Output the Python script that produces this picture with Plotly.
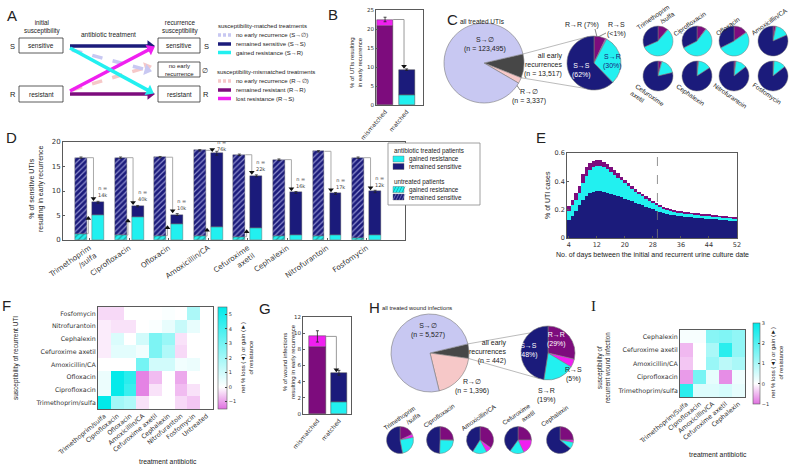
import math
import plotly.graph_objects as go

W, H = 800, 468
ARIAL = "Liberation Sans, Arial, sans-serif"
DEJA = "DejaVu Sans, Verdana, sans-serif"

NAVY = "#1b1b7b"
CYAN = "#22f0f0"
PURPLE = "#7d0c7d"
MAGENTA = "#f020f0"
LAV = "#c8c8f2"
PINK = "#f6c8c8"
DGRAY = "#474747"
AX = "#5a5a5a"

# ---------------- data ----------------
# B: % of UTIs resulting in early recurrence
B_categories = ["mismatched", "matched"]
B_lower = [20.7, 2.6]     # R->R (mismatched) / S->R (matched)
B_upper = [1.8, 6.7]      # R->S (mismatched) / S->S (matched)
B_err = [0.6, 0.2]

# C: pies
C_all_counts = [13517, 3337, 123495]          # early recurrences, R->0, S->0
C_early_pct = [7, 0.7, 30, 62]                # R->R, R->S, S->R, S->S
C_drugs = ["Trimethoprim<br>/sulfa", "Ciprofloxacin", "Ofloxacin", "Amoxicillin/CA",
           "Cefuroxime<br>axetil", "Cephalexin", "Nitrofurantoin", "Fosfomycin"]
C_drug_pies = [[11, 0.5, 57, 31.5], [10, 0.5, 57, 32.5], [15, 0.5, 52, 32.5], [3, 0.5, 15, 81.5],
               [4, 0.3, 17, 78.7], [1.5, 0.3, 14, 84.2], [2, 0.3, 12, 85.7], [1, 0.3, 13, 85.7]]

# D: % of sensitive UTIs resulting in early recurrence
D_drugs = ["Trimethoprim<br>/sulfa", "Ciprofloxacin", "Ofloxacin", "Amoxicillin/CA",
           "Cefuroxime<br>axetil", "Cephalexin", "Nitrofurantoin", "Fosfomycin"]
D_untreated_total = [16.8, 16.8, 16.9, 18.3, 17.4, 16.4, 18.1, 16.8]
D_untreated_gained = [1.3, 1.0, 0.9, 0.8, 0.7, 0.9, 0.8, 0.4]
D_treated_total = [7.7, 6.9, 5.2, 17.7, 13.1, 9.7, 9.5, 9.9]
D_treated_gained = [5.1, 4.6, 3.2, 2.7, 2.4, 1.1, 1.0, 1.1]
D_treated_err = [0.2, 0.15, 0.2, 0.4, 0.2, 0.2, 0.2, 0.25]
D_n = ["14k", "40k", "10k", "76k", "22k", "16k", "17k", "12k"]
D_gain_sig = [True, True, True, True, True, False, False, False]

# E: % of UTI cases by day
E_days = list(range(4, 53))
E_sensitive_top = [0.125, 0.155, 0.19, 0.23, 0.265, 0.295, 0.315, 0.328, 0.335, 0.335, 0.328, 0.318,
                   0.31, 0.303, 0.295, 0.287, 0.278, 0.269, 0.26, 0.25, 0.24, 0.23, 0.221, 0.212,
                   0.203, 0.194, 0.185, 0.177, 0.17, 0.164, 0.159, 0.155, 0.152, 0.149, 0.147, 0.145,
                   0.143, 0.141, 0.139, 0.137, 0.135, 0.133, 0.131, 0.129, 0.127, 0.125, 0.123, 0.121, 0.119]
E_gained_top = [0.19, 0.23, 0.27, 0.32, 0.39, 0.44, 0.48, 0.50, 0.51, 0.51, 0.503, 0.488, 0.466,
                0.446, 0.426, 0.406, 0.386, 0.366, 0.346, 0.327, 0.309, 0.293, 0.278, 0.264, 0.25,
                0.237, 0.222, 0.21, 0.2, 0.193, 0.187, 0.182, 0.178, 0.175, 0.172, 0.17, 0.167,
                0.165, 0.162, 0.16, 0.157, 0.155, 0.152, 0.15, 0.147, 0.145, 0.142, 0.14, 0.137]
E_resistant_top = [0.225, 0.27, 0.315, 0.37, 0.45, 0.50, 0.53, 0.545, 0.55, 0.55, 0.54, 0.522, 0.5,
                   0.478, 0.456, 0.434, 0.412, 0.39, 0.369, 0.348, 0.328, 0.31, 0.294, 0.279, 0.264,
                   0.25, 0.234, 0.221, 0.21, 0.202, 0.195, 0.19, 0.186, 0.182, 0.179, 0.176, 0.173,
                   0.171, 0.168, 0.166, 0.163, 0.161, 0.158, 0.155, 0.152, 0.15, 0.147, 0.145, 0.142]
E_cutoff = 29.3

# F: heatmap UTI (rows bottom -> top)
F_cols = ["Trimethoprim/sulfa", "Ciprofloxacin", "Ofloxacin", "Amoxicillin/CA", "Cefuroxime axetil",
          "Cephalexin", "Nitrofurantoin", "Fosfomycin", "Untreated"]
F_rows = ["Trimethoprim/sulfa", "Ciprofloxacin", "Ofloxacin", "Amoxicillin/CA", "Cefuroxime axetil",
          "Cephalexin", "Nitrofurantoin", "Fosfomycin"]
F_z = [[5.5, 2.0, 1.7, -0.3, 0, 0, -0.4, -0.6, 0],
       [0.4, 5.4, 4.3, -1.3, -0.3, 0, -0.7, -0.3, 0],
       [0.4, 5.4, 4.6, -1.3, -0.7, 0, -0.9, 0, 0],
       [0, 0, 0, 3.0, 1.0, 1.0, 0.3, 0.4, 0],
       [-0.2, 0.6, 0.6, 0.3, 2.8, 1.7, -0.4, 0, 0],
       [-0.2, 0.8, 0, 1.0, 2.8, 2.2, -0.3, 0, 0],
       [-0.2, -0.3, -0.3, 0, 0.1, 0.5, 1.2, 0.5, 0],
       [-0.4, -0.4, 0, 0, 0, 0.1, 0, 1.8, 0]]

# G: wound infections
G_categories = ["mismatched", "matched"]
G_lower = [8.3, 1.5]
G_upper = [1.3, 3.6]
G_err = [0.7, 0.3]

# H: pies
H_all_counts = [442, 1396, 5527]
H_early_pct = [29, 5, 19, 48]
H_drugs = ["Trimethoprim<br>/sulfa", "Ciprofloxacin", "Amoxicillin/CA", "Cefuroxime<br>axetil", "Cephalexin"]
H_drug_pies = [[18, 4, 25, 53], [25, 0.5, 25, 49.5], [35, 7, 17, 41], [25, 18, 17, 40], [25, 3, 8, 64]]

# I: heatmap wound (rows bottom -> top)
I_cols = ["Trimethoprim/Sulfa", "Ciprofloxacin", "Amoxicillin/CA", "Cefuroxime axetil", "Cephalexin"]
I_rows = ["Trimethoprim/sulfa", "Ciprofloxacin", "Amoxicillin/CA", "Cefuroxime axetil", "Cephalexin"]
I_z = [[2.5, 0.4, 0.4, 0.5, 0.3],
       [-0.7, 1.6, 0.3, -0.8, 0.2],
       [-0.4, 0, 1.2, 0.8, 1.0],
       [-0.5, 0, 1.0, 2.5, 1.3],
       [0.1, 0.1, 1.4, 1.5, 1.3]]

PIE_COLORS = [PURPLE, MAGENTA, CYAN, NAVY]

# ---------------- helpers ----------------
fig = go.Figure()
ann = []
shapes = []


def dx(a, b):
    return [a / W, b / W]


def dy(top, bot):
    return [1 - bot / H, 1 - top / H]


def T(x, y, text, size=6.5, color="#222", xanchor="center", yanchor="middle", angle=0,
      align="center", family=ARIAL):
    ann.append(dict(x=x, y=y, xref="x7", yref="y7", text=text, showarrow=False,
                    font=dict(size=size, color=color, family=family), xanchor=xanchor,
                    yanchor=yanchor, textangle=angle, align=align))


def L(xs, ys, color, width=1.0, dash=None):
    fig.add_trace(go.Scatter(x=xs, y=ys, mode="lines", line=dict(color=color, width=width, dash=dash),
                             xaxis="x7", yaxis="y7", hoverinfo="skip", showlegend=False))


def rect(x0, y0, x1, y1, fill="rgba(0,0,0,0)", line="#333", lw=0.8):
    shapes.append(dict(type="rect", xref="x7", yref="y7", x0=x0, y0=y0, x1=x1, y1=y1,
                       fillcolor=fill, line=dict(color=line, width=lw)))


def arrow(x0, y0, x1, y1, color, width=3.5, dash=None, head=10):
    ddx, ddy = x1 - x0, y1 - y0
    d = math.hypot(ddx, ddy)
    ux, uy = ddx / d, ddy / d
    hx, hy = x1 - ux * head * 0.4, y1 - uy * head * 0.4
    L([x0, hx - ux * 2], [y0, hy - uy * 2], color, width, dash)
    ang = math.degrees(math.atan2(ddx, -ddy))
    fig.add_trace(go.Scatter(x=[hx], y=[hy], mode="markers",
                             marker=dict(symbol="triangle-up", size=head, color=color, angle=ang,
                                         line=dict(width=0)),
                             xaxis="x7", yaxis="y7", hoverinfo="skip", showlegend=False))


def pie(values, colors, cx, cy, r, rotation=0, lw=0.6):
    fig.add_trace(go.Pie(values=values, labels=[str(i) for i in range(len(values))],
                         marker=dict(colors=colors, line=dict(color="#7a7a7a", width=lw)),
                         domain=dict(x=[(cx - r) / W, (cx + r) / W], y=[1 - (cy + r) / H, 1 - (cy - r) / H]),
                         sort=False, direction="clockwise", rotation=rotation, textinfo="none",
                         hoverinfo="skip", showlegend=False, automargin=False))


def pt(cx, cy, r, ang):
    a = math.radians(ang)
    return cx + r * math.sin(a), cy - r * math.cos(a)


def axis(domain, anchor, **kw):
    d = dict(domain=domain, anchor=anchor, showline=True, linecolor=AX, linewidth=0.8, mirror=True,
             ticks="inside", ticklen=2.5, tickcolor=AX, tickfont=dict(size=6, color="#333", family=DEJA),
             showgrid=False, zeroline=False, fixedrange=True, automargin=False)
    d.update(kw)
    return d


def stacked_two(xa, ya, lower, upper, err, low_cols, up_cols, width):
    fig.add_trace(go.Bar(x=[0, 1], y=lower, base=[0, 0], width=width,
                         marker=dict(color=low_cols, line=dict(color="#444", width=0.5)),
                         xaxis=xa, yaxis=ya, hoverinfo="skip", showlegend=False))
    fig.add_trace(go.Bar(x=[0, 1], y=upper, base=lower, width=width,
                         marker=dict(color=up_cols, line=dict(color="#444", width=0.5)),
                         error_y=dict(type="data", array=err, color="#222", thickness=0.8, width=1.5),
                         xaxis=xa, yaxis=ya, hoverinfo="skip", showlegend=False))
    tops = [lower[i] + upper[i] for i in range(2)]
    xb = 1 - 0.12
    fig.add_trace(go.Scatter(x=[width / 2, xb, xb], y=[tops[0], tops[0], tops[1] + 0.05 * tops[0]],
                             mode="lines", line=dict(color="#999", width=1), xaxis=xa, yaxis=ya,
                             hoverinfo="skip", showlegend=False))
    fig.add_trace(go.Scatter(x=[xb], y=[tops[1] + 0.04 * tops[0]], mode="markers",
                             marker=dict(symbol="triangle-down", size=5, color="#111"),
                             xaxis=xa, yaxis=ya, hoverinfo="skip", showlegend=False))


# ---------------- panel A (diagram) ----------------
T(12, 15, "A", size=15)
T(42, 27, "initial<br>susceptibility", size=6.3)
T(12.5, 46, "S", size=7.5)
T(12.5, 94, "R", size=7.5)
rect(19, 38, 63, 53)
rect(19, 86, 63, 102)
T(41, 45.5, "sensitive", size=6.5)
T(41, 94, "resistant", size=6.5)
T(108, 34, "antibiotic treatment", size=6.5)
T(180, 27, "recurrence<br>susceptibility", size=6.3)
rect(158, 38, 200, 53)
rect(158, 62, 200, 77)
rect(158, 86, 200, 102)
T(179, 45.5, "sensitive", size=6.5)
T(179, 69.5, "no early<br>recurrence", size=6)
T(179, 94, "resistant", size=6.5)
T(206, 46, "S", size=7.5)
T(205, 70, "∅", size=7)
T(206, 94, "R", size=7.5)

arrow(72, 90, 151, 66, PINK, width=3.5, dash="dash")
arrow(72, 50, 151, 71, LAV, width=3.5, dash="dash")
arrow(70, 46, 154, 46, NAVY)
arrow(70, 94, 154, 94, PURPLE)
arrow(70, 91, 154, 47, MAGENTA)
arrow(70, 48, 153, 93, CYAN)

T(216, 26, "susceptibility-matched treatments", size=6, xanchor="left")
T(215, 72, "susceptibility-mismatched treatments", size=6, xanchor="left")
A_leg = [(35, LAV, "dash", "no early recurrence (S→∅)"),
         (44, NAVY, None, "remained sensitive (S→S)"),
         (52.5, CYAN, None, "gained resistance (S→R)"),
         (81, PINK, "dash", "no early recurrence (R→∅)"),
         (90, PURPLE, None, "remained resistant (R→R)"),
         (98.5, MAGENTA, None, "lost resistance (R→S)")]
for yy, col, ds, lab in A_leg:
    L([218, 231], [yy, yy], col, width=3.5, dash="3px,2px" if ds else None)
    T(234, yy, lab, size=6, xanchor="left")

# ---------------- panel B ----------------
T(333, 14, "B", size=15)
stacked_two("x", "y", B_lower, B_upper, B_err, [PURPLE, CYAN], [MAGENTA, NAVY], 0.75)
T(356, 63, "% of UTIs resulting<br>in early recurrence", size=6, angle=-90)

# ---------------- panel C ----------------
T(452, 19, "C", size=15)
T(482, 21, "all treated UTIs", size=6.5)
c_cx, c_cy, c_r = 484, 63, 40
c_rot = 77
pie(C_all_counts, [DGRAY, PINK, LAV], c_cx, c_cy, c_r, rotation=c_rot)
s_cx, s_cy, s_r = 594, 63, 27
pie(C_early_pct, PIE_COLORS, s_cx, s_cy, s_r, rotation=0)
frac = C_all_counts[0] / sum(C_all_counts)
p1 = pt(c_cx, c_cy, c_r, c_rot)
p2 = pt(c_cx, c_cy, c_r, c_rot + 360 * frac)
q1 = pt(s_cx, s_cy, s_r, -12)
q2 = pt(s_cx, s_cy, s_r, 200)
L([p1[0], q1[0]], [p1[1], q1[1]], "#aaaaaa", 0.8)
L([p2[0], q2[0]], [p2[1], q2[1]], "#aaaaaa", 0.8)
T(485, 44.5, "S→∅<br>(n = 123,495)", size=7)
T(564, 64.5, "all early<br>recurrences<br>(n = 13,517)", size=7, xanchor="right", align="right")
T(529, 96, "R→∅<br>(n = 3,337)", size=7)
L([516, 520], [84, 90], "#555", 0.7)
T(582, 25, "R→R (7%)", size=7)
L([595, 597], [29, 37], "#555", 0.7)
T(616, 29, "R→S<br>(<1%)", size=7)
L([606, 598], [33, 37], "#555", 0.7)
T(612, 61, "S→R<br>(30%)", size=7, color=NAVY)
T(581, 70, "S→S<br>(62%)", size=7, color="white")
c_centers = [(658, 41), (697, 41), (734, 41), (773, 41), (658, 76), (697, 76), (734, 76), (773, 76)]
c_lab = [(655, 20), (690, 24), (727, 26), (769, 21), (648, 98), (690, 95), (730, 95), (767, 94)]
for k in range(8):
    cx, cy = c_centers[k]
    pie(C_drug_pies[k], PIE_COLORS, cx, cy, 15, rotation=0, lw=0.5)
    lx, ly = c_lab[k]
    T(lx, ly, C_drugs[k], size=6.5, angle=-35 if k < 4 else 35, align="right" if k < 4 else "left")

# ---------------- panel D ----------------
T(11, 137, "D", size=15)
x_un = [i - 0.215 for i in range(8)]
x_tr = [i + 0.215 for i in range(8)]
bw = 0.3
ut_rem = [D_untreated_total[i] - D_untreated_gained[i] for i in range(8)]
tr_rem = [D_treated_total[i] - D_treated_gained[i] for i in range(8)]
fig.add_trace(go.Bar(x=x_un, y=D_untreated_gained, base=[0] * 8, width=bw,
                     marker=dict(color=CYAN, line=dict(color="#555", width=0.4),
                                 pattern=dict(shape="/", bgcolor=CYAN, fgcolor="#1aa0a0", size=4, solidity=0.3)),
                     xaxis="x2", yaxis="y2", hoverinfo="skip", showlegend=False))
fig.add_trace(go.Bar(x=x_un, y=ut_rem, base=D_untreated_gained, width=bw,
                     marker=dict(color=NAVY, line=dict(color="#555", width=0.4),
                                 pattern=dict(shape="/", bgcolor=NAVY, fgcolor="#8f8fcf", size=4, solidity=0.3)),
                     error_y=dict(type="data", array=[0.15] * 8, color="#222", thickness=0.7, width=1.5),
                     xaxis="x2", yaxis="y2", hoverinfo="skip", showlegend=False))
fig.add_trace(go.Bar(x=x_tr, y=D_treated_gained, base=[0] * 8, width=bw,
                     marker=dict(color=CYAN, line=dict(color="#555", width=0.4)),
                     xaxis="x2", yaxis="y2", hoverinfo="skip", showlegend=False))
fig.add_trace(go.Bar(x=x_tr, y=tr_rem, base=D_treated_gained, width=bw,
                     marker=dict(color=NAVY, line=dict(color="#555", width=0.4)),
                     error_y=dict(type="data", array=D_treated_err, color="#222", thickness=0.7, width=1.5),
                     xaxis="x2", yaxis="y2", hoverinfo="skip", showlegend=False))
for i in range(8):
    xd = i + 0.1
    fig.add_trace(go.Scatter(x=[x_un[i] + bw / 2, xd, xd],
                             y=[D_untreated_total[i], D_untreated_total[i], D_treated_total[i] + 0.7],
                             mode="lines", line=dict(color="#aaa", width=1), xaxis="x2", yaxis="y2",
                             hoverinfo="skip", showlegend=False))
    fig.add_trace(go.Scatter(x=[xd], y=[D_treated_total[i] + 0.75], mode="markers",
                             marker=dict(symbol="triangle-down", size=5, color="#111"),
                             xaxis="x2", yaxis="y2", hoverinfo="skip", showlegend=False))
    if D_gain_sig[i]:
        xu = i - 0.03
        fig.add_trace(go.Scatter(x=[x_un[i] + bw / 2, xu, xu],
                                 y=[D_untreated_gained[i], D_untreated_gained[i], D_treated_gained[i] - 0.65],
                                 mode="lines", line=dict(color="#aaa", width=1), xaxis="x2", yaxis="y2",
                                 hoverinfo="skip", showlegend=False))
        fig.add_trace(go.Scatter(x=[xu], y=[D_treated_gained[i] - 0.7], mode="markers",
                                 marker=dict(symbol="triangle-up", size=5, color="#111"),
                                 xaxis="x2", yaxis="y2", hoverinfo="skip", showlegend=False))
    ann.append(dict(x=i + 0.33, y=min(D_treated_total[i] + 2.1, 19.3), xref="x2", yref="y2",
                    text="n =<br>" + D_n[i], showarrow=False,
                    font=dict(size=5, color="#444", family=DEJA)))
T(36, 189, "% of sensitive UTIs<br>resulting in early recurrence", size=7, angle=-90)
# D legend
rect(388, 143, 480, 205, fill="white", line="#888", lw=0.8)
T(392, 151, "antibiotic treated patients", size=6.3, xanchor="left")
T(392, 182, "untreated patients", size=6.3, xanchor="left")
leg_items = [(159, CYAN, False, "gained resistance"), (166.5, NAVY, False, "remained sensitive"),
             (189.5, CYAN, True, "gained resistance"), (197, NAVY, True, "remained sensitive")]
for yy, col, hatch, lab in leg_items:
    rect(393, yy - 3, 404, yy + 3, fill=col, line="#666", lw=0.4)
    if hatch:
        hc = "#8f8fcf" if col == NAVY else "#149b9b"
        for k in range(4):
            x0 = 393 + k * 3
            shapes.append(dict(type="line", xref="x7", yref="y7", x0=x0, y0=yy + 3, x1=x0 + 3, y1=yy - 3,
                               line=dict(color=hc, width=0.7)))
    T(407, yy, lab, size=6.3, xanchor="left")

# ---------------- panel E ----------------
T(541, 137, "E", size=15)
E_sens = E_sensitive_top
E_gain = [E_gained_top[i] - E_sensitive_top[i] for i in range(len(E_days))]
E_res = [E_resistant_top[i] - E_gained_top[i] for i in range(len(E_days))]
fig.add_trace(go.Bar(x=E_days, y=E_sens, base=[0] * len(E_days), width=1.0, marker=dict(color=NAVY, line=dict(width=0)),
                     xaxis="x3", yaxis="y3", hoverinfo="skip", showlegend=False))
fig.add_trace(go.Bar(x=E_days, y=E_gain, base=E_sensitive_top, width=1.0, marker=dict(color=CYAN, line=dict(width=0)),
                     xaxis="x3", yaxis="y3", hoverinfo="skip", showlegend=False))
fig.add_trace(go.Bar(x=E_days, y=E_res, base=E_gained_top, width=1.0, marker=dict(color=PURPLE, line=dict(width=0)),
                     xaxis="x3", yaxis="y3", hoverinfo="skip", showlegend=False))
fig.add_trace(go.Scatter(x=[E_cutoff, E_cutoff], y=[0, 0.6], mode="lines",
                         line=dict(color="#777", width=0.8, dash="dash"),
                         xaxis="x3", yaxis="y3", hoverinfo="skip", showlegend=False))
T(547, 195, "% of UTI cases", size=7, angle=-90)
T(652, 255, "No. of days between the initial and recurrent urine culture date", size=7)

# ---------------- panel F ----------------
T(6, 305, "F", size=15)
cs_F = [[0, "#e070e0"], [1.5 / 7, "#ffffff"], [1, "#00eaea"]]
fig.add_trace(go.Heatmap(z=F_z, x=F_cols, y=F_rows, colorscale=cs_F, zmin=-1.5, zmax=5.5,
                         xaxis="x4", yaxis="y4", hoverinfo="skip",
                         colorbar=dict(x=218 / W, xanchor="left", y=1 - 307 / H, yanchor="top",
                                       len=102 / H, lenmode="fraction", thickness=9, thicknessmode="pixels",
                                       outlinewidth=0.6, outlinecolor=AX, xpad=0, ypad=0,
                                       tickvals=[-1, 0, 1, 2, 3, 4, 5], ticks="inside", ticklen=2,
                                       tickfont=dict(size=5, family=DEJA, color="#333"))))
T(247, 358, "net % loss (◄) or gain (►)<br>of resistance", size=6, angle=-90)
T(16, 358, "susceptibility of recurrent UTI", size=6.5, angle=-90)
T(168, 461, "treatment antibiotic", size=6.8)

# ---------------- panel G ----------------
T(265, 308, "G", size=15)
stacked_two("x5", "y5", G_lower, G_upper, G_err, [PURPLE, CYAN], [MAGENTA, NAVY], 0.78)
T(289, 362, "% of wound infections<br>resulting in early recurrence", size=6, angle=-90)

# ---------------- panel H ----------------
T(374, 307, "H", size=15)
T(380, 308, "all treated wound infections", size=5.8, xanchor="left")
h_cx, h_cy, h_r = 430, 353, 39
h_rot = 76.5
pie(H_all_counts, [DGRAY, PINK, LAV], h_cx, h_cy, h_r, rotation=h_rot)
hs_cx, hs_cy, hs_r = 548, 353, 27
pie(H_early_pct, PIE_COLORS, hs_cx, hs_cy, hs_r, rotation=0)
frac = H_all_counts[0] / sum(H_all_counts)
p1 = pt(h_cx, h_cy, h_r, h_rot)
p2 = pt(h_cx, h_cy, h_r, h_rot + 360 * frac)
q1 = pt(hs_cx, hs_cy, hs_r, -42)
q2 = pt(hs_cx, hs_cy, hs_r, 198)
L([p1[0], q1[0]], [p1[1], q1[1]], "#aaaaaa", 0.8)
L([p2[0], q2[0]], [p2[1], q2[1]], "#aaaaaa", 0.8)
T(428, 330, "S→∅<br>(n = 5,527)", size=7)
T(508, 352, "all early<br>recurrences<br>(n = 442)", size=7, xanchor="right", align="right")
T(472, 386, "R→∅<br>(n = 1,396)", size=7)
L([442, 455], [375, 381], "#555", 0.7)
T(556, 339, "R→R<br>(29%)", size=7, color="white")
T(528, 350, "S→S<br>(48%)", size=7, color="white")
T(573, 374, "R→S<br>(5%)", size=7)
L([560, 566], [362, 368], "#555", 0.7)
T(546, 395, "S→R<br>(19%)", size=7)
h_centers = [400, 440, 480, 518, 560]
h_lab = [(401, 421), (439, 416), (478, 417), (518, 417), (555, 416)]
for k in range(5):
    pie(H_drug_pies[k], PIE_COLORS, h_centers[k], 440, 13.5, rotation=0, lw=0.5)
    lx, ly = h_lab[k]
    T(lx, ly, H_drugs[k], size=6.3, angle=-35, align="right")

# ---------------- panel I ----------------
T(593, 306, "I", size=15, family="Liberation Serif, serif")
cs_I = [[0, "#e070e0"], [0.25, "#ffffff"], [1, "#00eaea"]]
fig.add_trace(go.Heatmap(z=I_z, x=I_cols, y=I_rows, colorscale=cs_I, zmin=-1, zmax=3,
                         xaxis="x6", yaxis="y6", hoverinfo="skip",
                         colorbar=dict(x=753 / W, xanchor="left", y=1 - 323 / H, yanchor="top",
                                       len=81 / H, lenmode="fraction", thickness=7, thicknessmode="pixels",
                                       outlinewidth=0.6, outlinecolor=AX, xpad=0, ypad=0,
                                       tickvals=[-1, 0, 1, 2, 3], ticks="inside", ticklen=2,
                                       tickfont=dict(size=5, family=DEJA, color="#333"))))
T(777, 363, "net % loss (◄) or gain (►)<br>of resistance", size=6, angle=-90)
T(603, 368, "susceptibility of<br>recurrent wound infection", size=6.3, angle=-90)
T(718, 454, "treatment antibiotic", size=6.8)

# ---------------- layout ----------------
layout = dict(
    template="none",
    width=W, height=H, margin=dict(l=0, r=0, t=0, b=0, pad=0, autoexpand=False), paper_bgcolor="white",
    plot_bgcolor="rgba(0,0,0,0)", barmode="overlay", bargap=0, showlegend=False,
    font=dict(family=ARIAL, size=7, color="#222"),
    xaxis=axis(dx(376, 423), "y", range=[-0.42, 1.76], tickvals=[0, 1], ticktext=B_categories,
               tickangle=-50, ticks="", tickfont=dict(size=6, family=DEJA, color="#333")),
    yaxis=axis(dy(10, 105), "x", range=[0, 25], dtick=5, tickfont=dict(size=5.5, family=DEJA, color="#333")),
    xaxis2=axis(dx(63, 405), "y2", range=[-0.67, 7.97], tickvals=list(range(8)), ticktext=D_drugs,
                tickangle=-35, tickfont=dict(size=7.3, family=DEJA, color="#333")),
    yaxis2=axis(dy(142, 240), "x2", range=[0, 20], dtick=5, tickfont=dict(size=7, family=DEJA, color="#333")),
    xaxis3=axis(dx(567, 737), "y3", range=[3.5, 52], tickvals=list(range(4, 53, 8)),
                tickfont=dict(size=6.5, family=DEJA, color="#333")),
    yaxis3=axis(dy(153, 238), "x3", range=[0, 0.6], tickvals=[0, 0.2, 0.4, 0.6], ticktext=["0", "0.2", "0.4", "0.6"],
                tickfont=dict(size=6.5, family=DEJA, color="#333")),
    xaxis4=axis(dx(98, 213), "y4", tickangle=-40, ticks="", tickfont=dict(size=6.3, family=DEJA, color="#333")),
    yaxis4=axis(dy(307, 409), "x4", ticks="", tickfont=dict(size=6.3, family=DEJA, color="#333")),
    xaxis5=axis(dx(303, 351), "y5", range=[-0.67, 1.56], tickvals=[0, 1], ticktext=G_categories,
                tickangle=-50, ticks="", tickfont=dict(size=6, family=DEJA, color="#333")),
    yaxis5=axis(dy(317, 414), "x5", range=[0, 12], dtick=2, tickfont=dict(size=5.5, family=DEJA, color="#333")),
    xaxis6=axis(dx(680, 745), "y6", tickangle=-40, ticks="", tickfont=dict(size=6.3, family=DEJA, color="#333")),
    yaxis6=axis(dy(330, 397), "x6", ticks="", tickfont=dict(size=6.3, family=DEJA, color="#333")),
    xaxis7=dict(domain=[0, 1], range=[0, W], visible=False, anchor="y7", fixedrange=True, automargin=False),
    yaxis7=dict(domain=[0, 1], range=[H, 0], visible=False, anchor="x7", fixedrange=True, automargin=False),
    annotations=ann, shapes=shapes,
)
fig.update_layout(**layout)
fig.write_html("out.html", post_script="document.body.style.margin='0px';",
               config={"displayModeBar": False})
